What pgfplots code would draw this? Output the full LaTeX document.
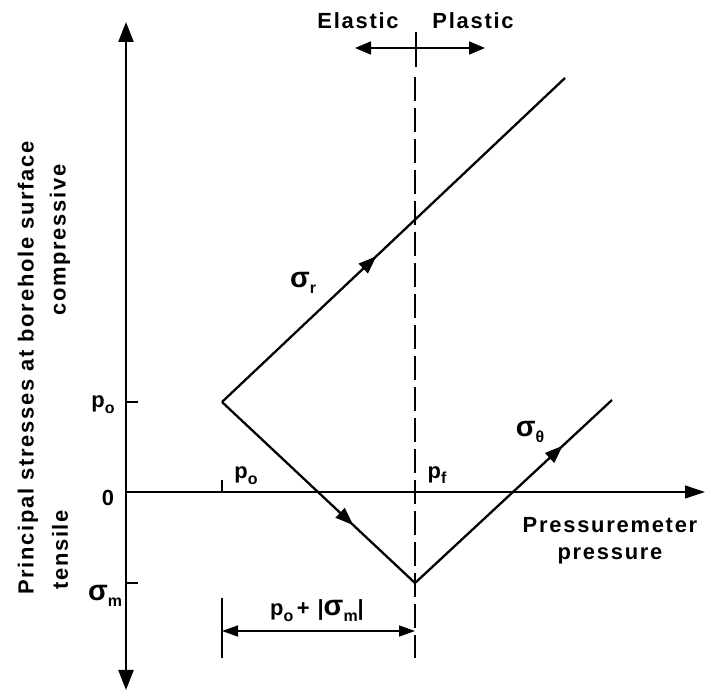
\documentclass[border=0pt]{standalone}
\usepackage{fontspec}
\setmainfont{Liberation Sans}[LetterSpace=8]
\usepackage{pgfplots}
\pgfplotsset{compat=1.18}
\usetikzlibrary{arrows.meta,decorations.markings}

\newcommand{\lbl}{\fontsize{22}{27}\selectfont\bfseries}
\newcommand{\sub}[1]{\raisebox{-0.5ex}{\fontsize{16}{16}\selectfont\bfseries #1}}
\newcommand{\sig}{{\fontsize{29}{29}\selectfont\bfseries σ}}

\tikzset{
  lab/.style={font=\lbl, inner sep=0pt},
  midarrow/.style={postaction={decorate}, decoration={markings,
    mark=at position #1 with {\arrow{Triangle[length=18bp,width=13bp]}}}}
}

\begin{document}
\begin{tikzpicture}
\begin{axis}[
  x=1bp, y=1bp,
  xmin=0, xmax=579, ymin=-198, ymax=470,
  axis lines=middle,
  enlargelimits=false,
  clip=false,
  x axis line style={line width=1.2pt, -{Triangle[length=20bp,width=13bp]}},
  y axis line style={line width=2.3pt, {Triangle[length=20bp,width=15bp]}-{Triangle[length=20bp,width=15bp]}},
  xtick={96}, ytick={-91,0,90},
  xticklabels={}, yticklabels={},
  tick align=inside,
  major tick length=12bp,
  tick style={line width=1.6pt, black},
]
% radial stress, rising through the elastic and plastic ranges
\addplot[line width=2.3pt, midarrow=0.45] coordinates {(96,90) (439,414)};
% hoop stress: falls to sigma_m at p_f, then rises
\addplot[line width=2.3pt, midarrow=0.68] coordinates {(96,90) (289,-91)};
\addplot[line width=2.3pt, midarrow=0.75] coordinates {(289,-91) (486,92)};
% limit between elastic and plastic behaviour
\addplot[line width=1.9pt, dash pattern=on 24bp off 7bp] coordinates {(289,415) (289,-166)};

% elastic / plastic marker
\draw[line width=1.8pt, {Triangle[length=16bp,width=13bp]}-{Triangle[length=16bp,width=13bp]}]
  (axis cs:229,444) -- (axis cs:359,444);
\draw[line width=1.8pt] (axis cs:290,460) -- (axis cs:290,425);
\node[lab] at (axis cs:232,471) {Elastic};
\node[lab] at (axis cs:347,471) {Plastic};

% dimension p_o + |sigma_m|
\draw[line width=1.5pt, {Triangle[length=16bp,width=11bp]}-{Triangle[length=16bp,width=11bp]}]
  (axis cs:96,-139) -- (axis cs:289,-139);
\draw[line width=1.5pt] (axis cs:96,-106) -- (axis cs:96,-166);
\node[lab] at (axis cs:191,-119) {p\sub{o}\,+\ |\sig\sub{m}|};

% axis annotations
\node[lab] at (axis cs:-23,87) {p\sub{o}};
\node[lab] at (axis cs:-18,-6) {0};
\node[lab] at (axis cs:-21,-104) {\sig\sub{m}};
\node[lab, rotate=90] at (axis cs:-98,124) {Principal stresses at borehole surface};
\node[lab, rotate=90] at (axis cs:-66,252) {compressive};
\node[lab, rotate=90] at (axis cs:-66,-58) {tensile};
\node[lab] at (axis cs:120,16) {p\sub{o}};
\node[lab] at (axis cs:311,17) {p\sub{f}};
\node[lab, align=center] at (axis cs:484,-49) {Pressuremeter\\pressure};
\node[lab] at (axis cs:177,209) {\sig\sub{r}};
\node[lab] at (axis cs:404,60) {\sig\sub{θ}};

\path (axis cs:-126,-204) rectangle (axis cs:587,492);
\end{axis}
\end{tikzpicture}
\end{document}
